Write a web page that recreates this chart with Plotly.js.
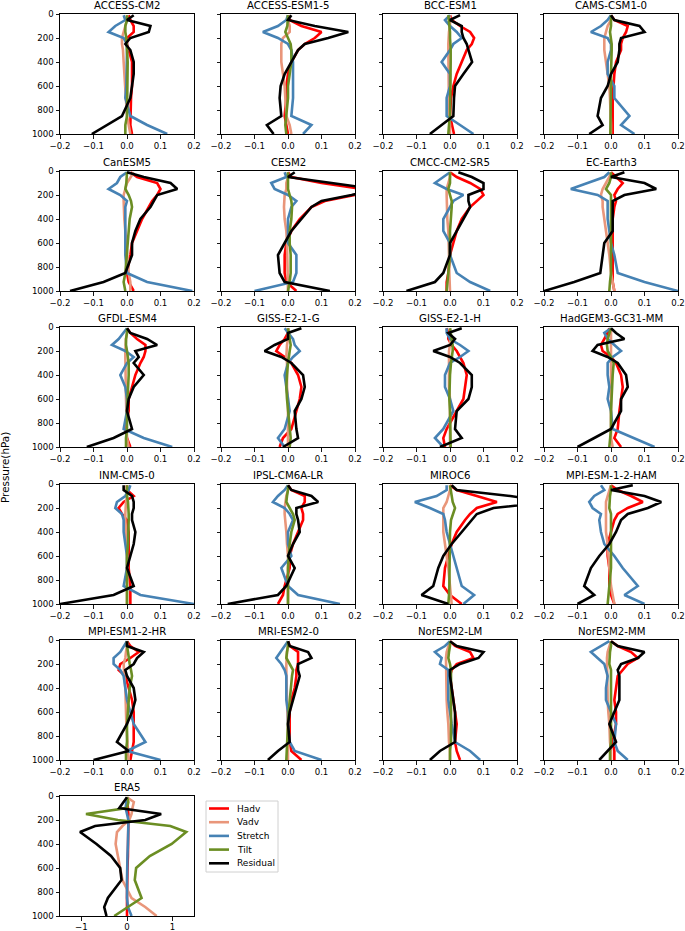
<!DOCTYPE html>
<html>
<head>
<meta charset="utf-8">
<script src="https://cdn.plot.ly/plotly-3.0.1.min.js"></script>
<style>html,body{margin:0;padding:0;background:#fff;}#chart{width:685px;height:931px;}</style>
</head>
<body>
<div id="chart"></div>
<script>
// ---------------- DATA ----------------
const PRESSURE = [10, 50, 100, 150, 200, 250, 300, 400, 500, 600, 700, 850, 925, 1000];
const MODELS = ["ACCESS-CM2","ACCESS-ESM1-5","BCC-ESM1","CAMS-CSM1-0",
  "CanESM5","CESM2","CMCC-CM2-SR5","EC-Earth3",
  "GFDL-ESM4","GISS-E2-1-G","GISS-E2-1-H","HadGEM3-GC31-MM",
  "INM-CM5-0","IPSL-CM6A-LR","MIROC6","MPI-ESM-1-2-HAM",
  "MPI-ESM1-2-HR","MRI-ESM2-0","NorESM2-LM","NorESM2-MM","ERA5"];
const SERIES = ["Hadv","Vadv","Stretch","Tilt","Residual"];
const X_TICKS = [-0.2, -0.1, 0, 0.1, 0.2];
const X_TICK_TEXT = ["\u22120.2","\u22120.1","0.0","0.1","0.2"];
const ERA5_X_TICKS = [-1, 0, 1];
const ERA5_X_TICK_TEXT = ["\u22121","0","1"];
const Y_TICKS = [0, 200, 400, 600, 800, 1000];

const HADV = [
 [0.005,0.01,0.02,0.02,0.0,0.0,0.005,0.015,0.015,0.015,0.012,0.01,0.01,0.015],
 [0.0,0.005,0.04,0.1,0.08,0.05,0.03,0.01,0.0,-0.005,-0.005,-0.01,-0.005,0.0],
 [0.0,0.005,0.03,0.06,0.072,0.065,0.05,0.035,0.02,0.01,0.003,0.0,0.005,0.012],
 [0.0,0.01,0.05,0.045,0.035,0.03,0.03,0.015,0.01,0.008,0.005,0.005,0.005,0.005],
 [0.01,0.03,0.09,0.1,0.09,0.075,0.065,0.045,0.03,0.015,0.01,0.0,0.005,0.02],
 [0.0,0.01,0.1,0.22,0.2,0.11,0.07,0.035,0.01,-0.005,-0.01,-0.01,-0.005,0.025],
 [0.0,0.02,0.06,0.09,0.1,0.08,0.06,0.035,0.02,0.01,0.0,-0.005,-0.01,-0.01],
 [0.0,0.015,0.035,0.02,0.01,0.015,0.01,0.005,0.005,0.005,0.005,0.005,0.005,0.01],
 [0.0,0.01,0.03,0.055,0.055,0.05,0.04,0.025,0.015,0.005,0.005,-0.005,0.0,0.01],
 [0.0,0.0,-0.01,-0.025,-0.035,-0.01,0.01,0.03,0.04,0.035,0.025,0.01,-0.015,-0.025],
 [-0.01,-0.005,-0.005,0.005,0.02,0.03,0.04,0.05,0.045,0.04,0.02,-0.01,-0.02,-0.015],
 [-0.005,-0.01,-0.02,-0.03,-0.025,0.0,0.015,0.03,0.035,0.03,0.025,0.02,0.01,0.03],
 [0.0,0.0,0.02,-0.01,-0.025,-0.015,0.0,0.005,0.005,0.005,0.005,0.01,0.01,0.01],
 [0.0,0.01,0.05,0.05,0.04,0.045,0.045,0.03,0.015,0.005,0.005,-0.01,-0.015,-0.03],
 [0.0,0.02,0.08,0.14,0.08,0.06,0.045,0.02,0.005,-0.005,-0.015,-0.02,0.0,0.035],
 [0.0,0.02,0.06,0.095,0.05,0.02,0.01,0.0,-0.01,-0.01,-0.005,-0.005,0.0,0.01],
 [0.0,0.01,0.035,0.01,-0.02,-0.025,-0.005,0.005,0.015,0.02,0.02,0.02,0.015,0.01],
 [0.0,0.005,0.03,0.03,0.03,0.025,0.025,0.02,0.01,0.005,0.005,0.005,0.01,0.04],
 [0.0,0.015,0.06,0.07,0.02,0.005,0.0,0.005,0.01,0.015,0.02,0.015,0.02,0.03],
 [0.0,0.02,0.06,0.08,0.05,0.035,0.02,0.015,0.01,0.015,0.015,0.005,0.01,0.01],
 [0.0,0.01,0.03,0.03,0.03,0.03,0.03,0.03,0.02,0.01,0.0,0.0,0.0,0.0]
];
const VADV = [
 [0.0,0.0,-0.005,-0.01,-0.015,-0.015,-0.012,-0.01,-0.008,-0.006,-0.003,0.0,0.005,0.01],
 [0.0,0.0,0.005,0.005,-0.015,-0.02,-0.02,-0.02,-0.015,-0.01,-0.008,-0.005,0.005,0.01],
 [0.0,0.0,0.0,-0.003,-0.005,-0.005,-0.005,-0.005,-0.005,-0.005,-0.005,-0.003,0.0,0.0],
 [0.0,0.0,-0.01,-0.015,-0.02,-0.02,-0.02,-0.015,-0.01,-0.005,-0.003,0.0,0.0,0.0],
 [0.02,0.01,0.0,-0.005,-0.01,-0.01,-0.01,-0.008,-0.005,-0.002,0.0,0.005,0.01,0.01],
 [0.0,0.0,-0.005,-0.005,-0.01,-0.012,-0.012,-0.01,-0.005,-0.003,-0.002,0.0,0.0,0.0],
 [0.0,0.0,-0.005,-0.01,-0.01,-0.01,-0.01,-0.008,-0.005,-0.005,-0.003,-0.002,0.0,0.0],
 [0.0,-0.005,-0.015,-0.025,-0.03,-0.025,-0.025,-0.02,-0.015,-0.01,-0.005,0.0,0.005,0.01],
 [0.0,0.0,-0.003,-0.005,-0.005,-0.005,-0.005,-0.005,-0.005,-0.003,-0.002,0.0,0.0,0.005],
 [0.0,0.0,0.0,-0.003,-0.005,-0.005,-0.003,-0.003,-0.003,0.0,0.0,0.0,0.0,0.0],
 [0.0,0.0,0.0,0.0,-0.003,-0.003,-0.003,-0.003,-0.003,0.0,0.0,0.0,0.0,0.0],
 [0.0,0.0,0.0,0.0,0.0,0.0,0.0,0.0,0.0,0.0,0.0,0.0,0.0,0.005],
 [0.0,0.0,0.0,-0.003,-0.005,-0.005,-0.005,-0.003,-0.002,0.0,0.0,0.0,0.0,0.0],
 [0.0,0.0,-0.005,-0.008,-0.01,-0.01,-0.008,-0.005,-0.003,0.0,0.0,0.0,0.0,0.0],
 [0.0,0.0,-0.005,-0.01,-0.02,-0.02,-0.02,-0.02,-0.015,-0.01,-0.005,0.0,0.003,0.005],
 [0.0,-0.005,-0.01,-0.015,-0.015,-0.015,-0.015,-0.015,-0.01,-0.008,-0.005,0.0,0.005,0.01],
 [0.0,0.0,-0.003,-0.005,-0.01,-0.01,-0.008,-0.005,-0.005,-0.003,-0.002,0.0,0.003,0.005],
 [0.0,0.0,-0.003,-0.005,-0.005,-0.005,-0.005,-0.005,-0.003,-0.002,0.0,0.0,0.0,0.0],
 [0.0,-0.005,-0.01,-0.012,-0.012,-0.012,-0.012,-0.01,-0.01,-0.008,-0.005,-0.003,0.0,0.0],
 [0.0,-0.005,-0.01,-0.012,-0.012,-0.012,-0.012,-0.01,-0.01,-0.008,-0.005,-0.003,0.0,0.0],
 [0.0,0.15,0.12,0.1,0.05,-0.1,-0.22,-0.25,-0.2,-0.15,-0.1,0.1,0.4,0.65]
];
const STRETCH = [
 [-0.01,-0.005,-0.035,-0.055,-0.01,0.0,0.0,0.0,0.0,-0.002,-0.005,0.01,0.06,0.12],
 [0.0,-0.005,-0.03,-0.075,-0.03,0.0,0.01,0.015,0.015,0.015,0.015,0.01,0.07,0.045],
 [0.0,-0.015,0.0,0.02,0.035,0.01,0.0,-0.025,0.0,0.0,-0.01,-0.01,0.03,0.07],
 [0.0,-0.01,-0.03,-0.06,-0.01,0.0,0.0,-0.01,-0.01,0.01,0.01,0.055,0.03,0.07],
 [0.0,-0.02,-0.03,-0.055,-0.02,0.0,-0.005,-0.005,-0.005,-0.005,-0.005,0.0,0.06,0.195],
 [-0.01,-0.005,-0.05,-0.04,0.0,0.025,0.01,0.0,0.0,0.0,0.025,0.025,0.015,-0.1],
 [0.0,-0.02,-0.045,-0.01,0.04,0.01,0.0,-0.02,-0.02,0.0,0.0,0.02,0.06,0.12],
 [-0.005,-0.02,-0.07,-0.12,-0.04,-0.01,-0.01,-0.01,-0.005,0.0,0.01,0.02,0.1,0.2],
 [0.0,-0.01,-0.025,-0.045,-0.005,0.02,0.0,-0.02,-0.005,0.0,0.0,-0.01,0.05,0.135],
 [-0.01,0.0,0.015,0.02,0.035,0.015,0.0,-0.01,-0.005,0.0,0.005,-0.01,-0.03,-0.01],
 [-0.01,-0.01,0.0,0.03,0.055,0.03,0.0,-0.015,-0.015,0.0,0.01,-0.02,-0.045,-0.02],
 [0.0,-0.02,-0.01,0.01,0.03,0.005,-0.01,-0.01,-0.005,-0.01,0.0,0.005,0.07,0.13],
 [0.01,0.005,-0.005,-0.03,-0.035,-0.015,-0.01,-0.01,-0.005,0.0,0.0,-0.01,0.04,0.2],
 [0.0,-0.01,-0.03,-0.045,-0.01,0.005,0.015,0.0,0.0,0.01,-0.02,0.0,0.03,0.155],
 [-0.01,-0.01,-0.04,-0.105,-0.06,-0.02,-0.015,-0.01,0.0,0.01,0.02,0.035,0.072,0.04],
 [-0.03,-0.02,-0.05,-0.065,-0.055,-0.03,-0.035,-0.03,-0.02,0.01,0.035,0.08,0.04,0.1],
 [0.0,-0.01,-0.02,-0.04,-0.04,-0.02,-0.01,-0.005,0.0,0.01,0.02,0.055,0.0,0.1],
 [0.0,-0.01,-0.02,-0.035,-0.02,-0.01,-0.005,-0.005,-0.005,0.0,0.0,0.005,0.02,0.1],
 [0.0,-0.015,-0.045,-0.025,-0.03,-0.005,-0.005,-0.005,-0.005,0.0,0.005,0.015,0.06,0.09],
 [-0.005,-0.03,-0.06,-0.04,-0.02,-0.015,-0.01,-0.015,-0.015,0.0,0.015,0.01,0.02,0.05],
 [0.0,-0.01,-0.03,0.0,0.03,0.03,0.03,0.02,0.01,0.0,0.0,0.0,0.02,0.1]
];
const TILT = [
 [0.0,0.0,-0.005,-0.005,-0.002,0.0,0.0,0.002,0.002,0.0,0.0,0.0,-0.005,-0.005],
 [0.0,0.0,-0.002,-0.008,0.0,0.008,0.01,0.01,0.005,0.0,0.0,-0.005,-0.008,-0.005],
 [-0.005,-0.003,-0.002,0.0,0.0,0.002,0.002,0.002,0.002,0.0,0.0,0.0,-0.003,-0.005],
 [0.0,0.0,0.0,-0.003,0.0,0.002,0.002,0.0,0.0,0.0,0.0,0.0,0.0,-0.002],
 [0.0,0.0,-0.002,-0.005,0.005,0.012,0.015,0.008,0.005,0.002,0.0,-0.005,-0.01,-0.005],
 [0.0,0.0,0.0,0.0,0.005,0.01,0.012,0.01,0.005,0.005,0.008,0.008,0.005,0.0],
 [0.0,0.0,0.0,-0.005,0.0,0.005,0.005,0.002,0.0,0.0,0.0,-0.005,-0.008,-0.01],
 [0.0,0.0,-0.005,-0.015,0.0,0.0,0.0,0.0,0.0,0.0,0.0,0.0,-0.003,-0.005],
 [0.0,0.0,-0.003,-0.003,0.0,0.003,0.005,0.005,0.003,0.0,0.0,0.0,-0.003,-0.003],
 [0.0,0.002,0.005,0.008,0.005,0.002,0.0,-0.003,-0.005,-0.003,0.0,0.005,0.008,0.005],
 [0.0,0.002,0.005,0.008,0.008,0.005,0.003,0.0,-0.002,-0.002,0.0,0.002,0.003,0.002],
 [0.0,-0.005,-0.01,-0.012,-0.01,0.0,0.008,0.005,0.003,0.0,0.0,0.0,-0.003,-0.005],
 [0.0,0.0,0.0,0.003,0.005,0.005,0.005,0.005,0.003,0.0,0.0,0.0,0.0,0.0],
 [0.0,0.0,-0.003,-0.005,0.005,0.015,0.02,0.01,0.005,0.003,0.0,0.0,0.0,0.0],
 [0.0,0.002,0.005,0.008,0.015,0.01,0.003,0.0,0.0,0.0,0.0,-0.002,-0.003,-0.005],
 [0.0,0.0,-0.003,-0.005,-0.005,0.0,0.0,0.0,0.0,0.0,0.0,-0.005,-0.008,-0.01],
 [0.0,0.0,0.003,0.005,0.008,0.012,0.015,0.008,0.005,0.002,0.0,0.0,-0.003,-0.003],
 [0.0,0.0,-0.003,-0.005,0.005,0.015,0.012,0.008,0.005,0.002,0.0,-0.002,-0.005,-0.005],
 [0.0,0.0,-0.003,-0.005,0.0,0.003,0.003,0.003,0.003,0.003,0.003,0.003,0.0,0.0],
 [0.0,0.0,-0.003,-0.005,-0.005,0.0,0.0,0.0,0.0,0.0,0.0,0.0,-0.003,-0.003],
 [0.0,0.03,0.0,-0.9,-0.2,0.95,1.3,0.98,0.5,0.2,0.17,0.32,0.02,-0.28]
];
const RESIDUAL = [
 [0.02,0.0,0.07,0.065,0.01,-0.005,0.01,0.02,0.02,0.015,0.01,-0.015,-0.06,-0.105],
 [0.01,0.0,0.08,0.18,0.12,0.05,0.03,0.01,-0.01,-0.022,-0.025,-0.02,-0.063,-0.043],
 [0.03,0.0,0.035,0.035,0.04,0.05,0.055,0.066,0.04,0.015,0.012,0.01,-0.025,-0.06],
 [0.0,0.01,0.085,0.1,0.03,0.025,0.025,0.02,0.0,-0.01,-0.03,-0.04,-0.025,-0.065],
 [0.0,0.05,0.13,0.15,0.09,0.08,0.07,0.04,0.025,0.015,0.015,-0.005,-0.07,-0.17],
 [0.02,0.0,0.13,0.26,0.19,0.1,0.07,0.04,0.01,-0.01,-0.03,-0.025,-0.01,0.125],
 [0.025,0.065,0.1,0.1,0.055,0.055,0.06,0.04,0.02,0.0,0.0,-0.02,-0.045,-0.13],
 [0.04,0.0,0.1,0.135,0.04,0.005,0.005,0.005,0.005,-0.02,-0.025,-0.032,-0.11,-0.2],
 [0.0,0.01,0.06,0.09,0.025,0.035,0.02,0.05,0.02,0.005,0.0,0.015,-0.04,-0.12],
 [0.04,0.0,0.0,-0.04,-0.07,-0.02,0.01,0.045,0.05,0.04,0.02,0.025,0.03,-0.015],
 [0.035,-0.005,0.015,0.0,-0.05,0.0,0.03,0.065,0.065,0.055,0.02,0.015,0.035,-0.03],
 [0.0,0.015,0.04,-0.04,-0.055,-0.01,0.02,0.045,0.05,0.03,0.03,0.0,-0.05,-0.1],
 [-0.01,-0.01,0.015,0.02,0.02,0.015,0.015,0.025,0.02,0.01,0.0,0.02,-0.04,-0.2],
 [0.0,0.01,0.07,0.09,0.025,0.025,0.03,0.035,0.015,0.0,0.02,-0.005,-0.03,-0.18],
 [0.005,0.02,0.18,0.3,0.13,0.08,0.065,0.035,0.005,-0.02,-0.035,-0.05,-0.085,-0.005],
 [0.065,0.0,0.1,0.15,0.11,0.05,0.03,0.015,-0.005,-0.035,-0.06,-0.08,-0.05,-0.1],
 [0.0,0.0,0.05,0.03,0.02,-0.005,0.0,0.02,0.025,0.015,0.0,-0.03,0.005,-0.1],
 [0.0,0.005,0.06,0.07,0.03,0.03,0.035,0.025,0.015,0.005,0.0,0.005,-0.03,-0.06],
 [0.0,0.02,0.1,0.085,0.03,0.0,0.0,0.005,0.01,0.015,0.015,0.015,-0.03,-0.06],
 [0.0,0.02,0.1,0.08,0.03,0.02,0.025,0.025,0.025,0.01,-0.005,0.015,-0.01,-0.035],
 [0.0,-0.08,-0.17,0.75,0.4,-0.7,-1.03,-0.67,-0.35,-0.15,-0.12,-0.42,-0.5,-0.45]
];

// ---------------- STYLE / LAYOUT ----------------
const COLORS = ["#ff0000", "#e9967a", "#4682b4", "#6b8e23", "#000000"];
const DATA = [HADV, VADV, STRETCH, TILT, RESIDUAL];
const W = 685, H = 931;
const COLS = [[60,194],[221,355],[383,517],[544,678]];
const ROW_TOPS = [14,171,327,484,640,796];
const PH = 120;
const FONT = "DejaVu Sans, Liberation Sans, sans-serif";

const traces = [];
const layout = {
  width: W, height: H, margin: {l:0,r:0,t:0,b:0},
  paper_bgcolor: "#fff", plot_bgcolor: "#fff",
  showlegend: false, font: {family: FONT, color: "#000"},
  annotations: [], shapes: []
};

MODELS.forEach((name, i) => {
  const row = Math.floor(i/4), col = i % 4;
  const n = i + 1;
  const xa = n === 1 ? "x" : "x" + n, ya = n === 1 ? "y" : "y" + n;
  const [x0, x1] = COLS[col];
  const top = ROW_TOPS[row];
  const isEra = name === "ERA5";
  DATA.forEach((arr, s) => {
    traces.push({
      x: arr[i], y: PRESSURE, xaxis: xa, yaxis: ya, type: "scatter", mode: "lines",
      name: SERIES[s], line: {color: COLORS[s], width: 2.6}, hoverinfo: "skip", showlegend: false
    });
  });
  const axCommon = {
    showline: true, mirror: true, linecolor: "#000", linewidth: 1,
    ticks: "outside", ticklen: 3.5, tickwidth: 0.9, tickcolor: "#000",
    showgrid: false, zeroline: false, fixedrange: true,
    tickfont: {size: 8.6, family: FONT, color: "#000"}
  };
  const xax = Object.assign({}, axCommon, {
    domain: [x0/W, x1/W], anchor: ya,
    range: isEra ? [-1.47, 1.47] : [-0.2, 0.2],
    tickmode: "array",
    tickvals: isEra ? ERA5_X_TICKS : X_TICKS,
    ticktext: isEra ? ERA5_X_TICK_TEXT : X_TICK_TEXT
  });
  if (isEra) { xax.ticklabelstandoff = -1; }
  layout["xaxis" + (n === 1 ? "" : n)] = xax;
  layout["yaxis" + (n === 1 ? "" : n)] = Object.assign({}, axCommon, {
    domain: [1 - (top + PH)/H, 1 - top/H], anchor: xa,
    range: [1000, 0], tickmode: "array", tickvals: Y_TICKS,
    showticklabels: col === 0
  });
  layout.annotations.push({
    text: name, xref: "paper", yref: "paper",
    x: (x0 + x1)/2/W, y: 1 - (top - 1)/H, xanchor: "center", yanchor: "bottom",
    showarrow: false, font: {size: 10.2, family: FONT, color: "#000"}
  });
});

// y-axis label
layout.annotations.push({
  text: "Pressure(hPa)", xref: "paper", yref: "paper",
  x: 5/W, y: 1 - 468/H, xanchor: "center", yanchor: "middle",
  textangle: -90, showarrow: false, font: {size: 10.4, family: FONT, color: "#000"}
});

// legend (matplotlib-style box)
const LEG = {x0: 206, y0: 801, x1: 278, y1: 872};
layout.shapes.push({
  type: "rect", xref: "paper", yref: "paper",
  x0: LEG.x0/W, x1: LEG.x1/W, y0: 1 - LEG.y1/H, y1: 1 - LEG.y0/H,
  line: {color: "#d0d0d0", width: 1}, fillcolor: "rgba(255,255,255,0.8)"
});
SERIES.forEach((s, k) => {
  const yy = 808.5 + k*13.7;
  layout.shapes.push({
    type: "line", xref: "paper", yref: "paper",
    x0: 209/W, x1: 229/W, y0: 1 - yy/H, y1: 1 - yy/H,
    line: {color: COLORS[k], width: 2.6}
  });
  layout.annotations.push({
    text: s, xref: "paper", yref: "paper", x: 235/W, y: 1 - yy/H,
    xanchor: "left", yanchor: "middle", showarrow: false,
    font: {size: 9, family: FONT, color: "#000"}
  });
});

Plotly.newPlot("chart", traces, layout, {staticPlot: true, displayModeBar: false});
</script>
</body>
</html>
